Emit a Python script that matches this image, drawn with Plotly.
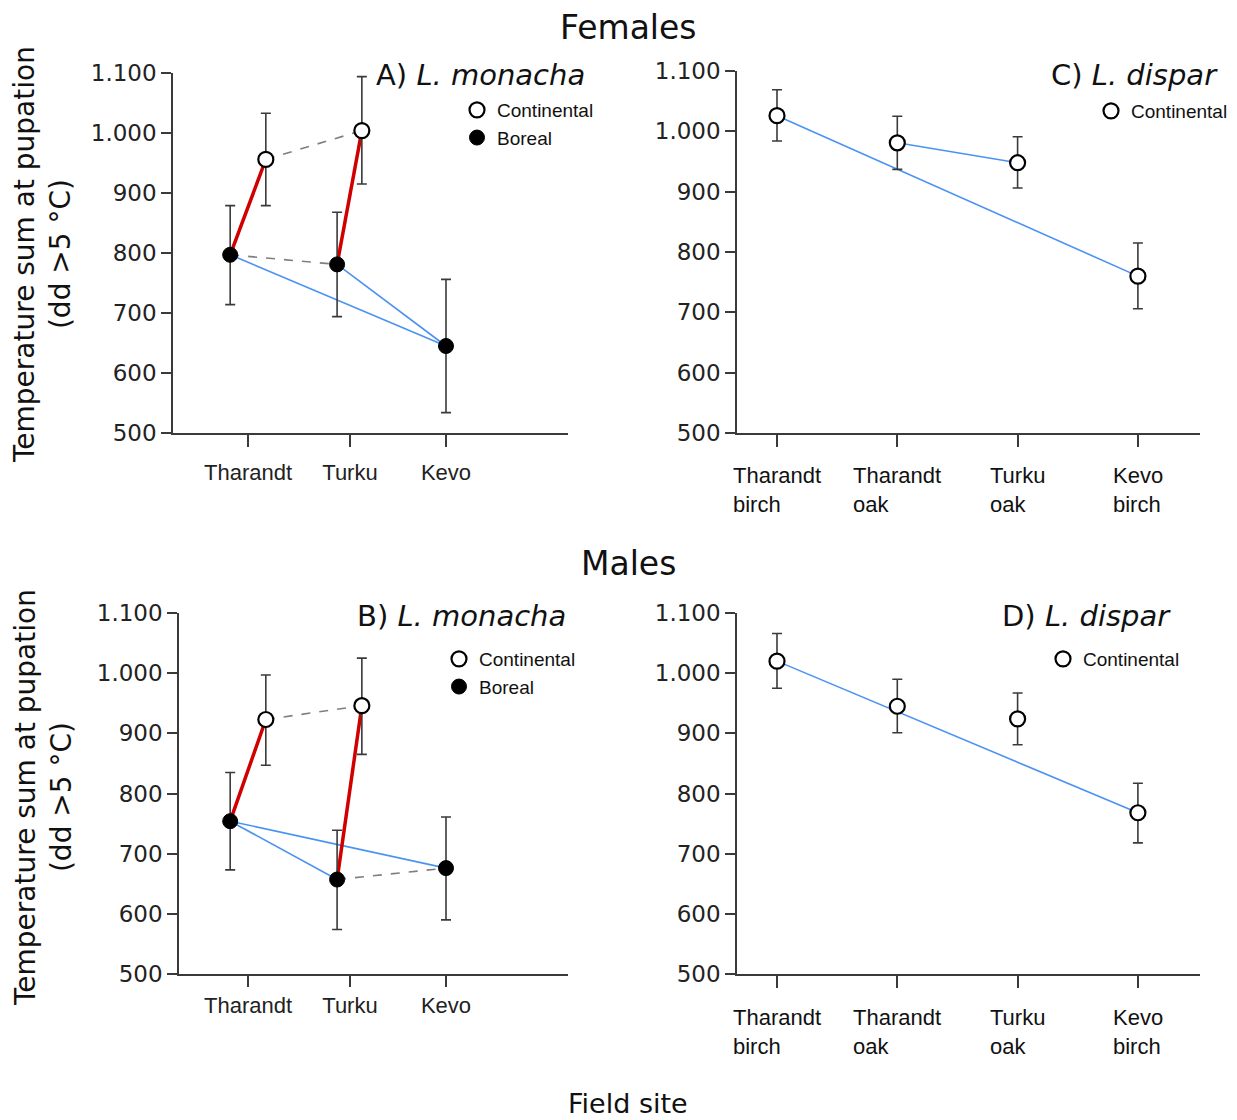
import plotly.graph_objects as go

W, H = 1237, 1120

# ---------------- data ----------------
monacha_sites = ["Tharandt", "Turku", "Kevo"]
dispar_sites = ["Tharandt<br>birch", "Tharandt<br>oak", "Turku<br>oak", "Kevo<br>birch"]
y_ticks = [500, 600, 700, 800, 900, 1000, 1100]

# L. monacha, females (Continental: Tharandt, Turku; Boreal: Tharandt, Turku, Kevo)
fem_mon_cont_mean = [956, 1004]
fem_mon_cont_hi = [1033, 1094]
fem_mon_cont_lo = [879, 915]
fem_mon_bor_mean = [797, 781, 645]
fem_mon_bor_hi = [879, 868, 756]
fem_mon_bor_lo = [714, 694, 534]

# L. monacha, males
male_mon_cont_mean = [923, 946]
male_mon_cont_hi = [997, 1025]
male_mon_cont_lo = [847, 865]
male_mon_bor_mean = [754, 657, 676]
male_mon_bor_hi = [835, 739, 761]
male_mon_bor_lo = [673, 574, 590]

# L. dispar (Continental)
fem_dis_mean = [1026, 981, 948, 760]
fem_dis_hi = [1069, 1025, 991, 815]
fem_dis_lo = [984, 937, 906, 706]
male_dis_mean = [1020, 945, 924, 768]
male_dis_hi = [1066, 990, 967, 817]
male_dis_lo = [975, 901, 881, 718]

# ---------------- layout constants ----------------
monacha_pos = [0, 1.03, 2]
cont_dodge = [0.18, 0.12]
bor_dodge = [-0.18, -0.13, 0.0]
dispar_pos = [0, 1, 2, 3]

RED = dict(color="#d10000", width=3.5)
BLUE = dict(color="#4b93f2", width=1.6)
GRAY = dict(color="#7f7f7f", width=1.6, dash="dash")

NUM_FONT = "DejaVu Sans, Verdana, sans-serif"
LAB_FONT = "Liberation Sans, Arial, sans-serif"
AX_COLOR = "#3a3a3a"

fig = go.Figure()


def px_x(p):
    return p / W


def px_y(p):
    return 1 - p / H


def add_group(ax, x, mean, hi, lo, filled, name, legend, show):
    xa, ya = ax
    fig.add_trace(go.Scatter(
        x=x, y=mean, mode="markers", xaxis=xa, yaxis=ya, name=name,
        legend=legend, showlegend=show, cliponaxis=False,
        marker=dict(size=15, color="black" if filled else "white",
                    line=dict(color="black", width=1 if filled else 2.2)),
        error_y=dict(type="data", symmetric=False,
                     array=[h - m for h, m in zip(hi, mean)],
                     arrayminus=[m - l for l, m in zip(lo, mean)],
                     color=AX_COLOR, thickness=1.6, width=5),
    ))


def add_link(ax, pts, style):
    xa, ya = ax
    fig.add_trace(go.Scatter(
        x=[p[0] for p in pts], y=[p[1] for p in pts], mode="lines",
        xaxis=xa, yaxis=ya, line=style, showlegend=False, hoverinfo="skip",
        cliponaxis=False,
    ))


def monacha_panel(ax, cm, ch, cl, bm, bh, bl, links, legend):
    cx = [monacha_pos[i] + cont_dodge[i] for i in range(len(cm))]
    bx = [monacha_pos[i] + bor_dodge[i] for i in range(len(bm))]
    P = {"c": list(zip(cx, cm)), "b": list(zip(bx, bm))}
    for style, a, b in links:
        add_link(ax, [P[a[0]][a[1]], P[b[0]][b[1]]], style)
    add_group(ax, cx, cm, ch, cl, False, "Continental", legend, True)
    add_group(ax, bx, bm, bh, bl, True, "Boreal", legend, True)


def dispar_panel(ax, m, h, l, links, legend):
    P = list(zip(dispar_pos, m))
    for style, a, b in links:
        add_link(ax, [P[a], P[b]], style)
    add_group(ax, dispar_pos, m, h, l, False, "Continental", legend, True)


# A) females L. monacha
monacha_panel(("x", "y"), fem_mon_cont_mean, fem_mon_cont_hi, fem_mon_cont_lo,
              fem_mon_bor_mean, fem_mon_bor_hi, fem_mon_bor_lo,
              [(GRAY, ("c", 0), ("c", 1)), (GRAY, ("b", 0), ("b", 1)),
               (BLUE, ("b", 0), ("b", 2)), (BLUE, ("b", 1), ("b", 2)),
               (RED, ("b", 0), ("c", 0)), (RED, ("b", 1), ("c", 1))], "legend")
# B) males L. monacha
monacha_panel(("x2", "y2"), male_mon_cont_mean, male_mon_cont_hi, male_mon_cont_lo,
              male_mon_bor_mean, male_mon_bor_hi, male_mon_bor_lo,
              [(GRAY, ("c", 0), ("c", 1)), (GRAY, ("b", 1), ("b", 2)),
               (BLUE, ("b", 0), ("b", 1)), (BLUE, ("b", 0), ("b", 2)),
               (RED, ("b", 0), ("c", 0)), (RED, ("b", 1), ("c", 1))], "legend2")
# C) females L. dispar
dispar_panel(("x3", "y3"), fem_dis_mean, fem_dis_hi, fem_dis_lo,
             [(BLUE, 0, 3), (BLUE, 1, 2)], "legend3")
# D) males L. dispar
dispar_panel(("x4", "y4"), male_dis_mean, male_dis_hi, male_dis_lo,
             [(BLUE, 0, 3)], "legend4")

# ---------------- axes ----------------
common = dict(showline=True, linecolor=AX_COLOR, linewidth=1.5, ticks="outside",
              tickcolor=AX_COLOR, tickwidth=1.5, showgrid=False, zeroline=False,
              fixedrange=True, automargin=False)


def yaxis(top, bottom, anchor):
    return dict(common, domain=[px_y(bottom), px_y(top)], range=[500, 1100],
                tickvals=y_ticks, tickformat=",", ticklen=10, anchor=anchor,
                tickfont=dict(family=NUM_FONT, size=23, color="#222"))


def xaxis_mon(left, right, anchor, ticklen, standoff):
    sp = 99.0
    return dict(common, domain=[px_x(left), px_x(right)],
                range=[(left - 248) / sp, (right - 248) / sp],
                tickvals=monacha_pos, ticktext=monacha_sites, ticklen=ticklen,
                ticklabelstandoff=standoff, anchor=anchor,
                tickfont=dict(family=LAB_FONT, size=22, color="#222"))


def xaxis_dis(left, right, anchor):
    sp = 120.3
    return dict(common, domain=[px_x(left), px_x(right)],
                range=[(left - 777) / sp, (right - 777) / sp],
                tickvals=dispar_pos, ticktext=[""] * 4, ticklen=12, anchor=anchor)


fig.update_layout(
    xaxis=xaxis_mon(173, 568, "y", 12, 7), yaxis=yaxis(73, 433, "x"),
    xaxis2=xaxis_mon(179, 568, "y2", 11, 0), yaxis2=yaxis(613, 974, "x2"),
    xaxis3=xaxis_dis(737, 1200, "y3"), yaxis3=yaxis(71, 433, "x3"),
    xaxis4=xaxis_dis(737, 1200, "y4"), yaxis4=yaxis(613, 974, "x4"),
)

# ---------------- legends ----------------
def leg(xpx, ypx):
    return dict(x=px_x(xpx), y=px_y(ypx), xanchor="left", yanchor="top",
                bgcolor="rgba(0,0,0,0)", borderwidth=0, tracegroupgap=0,
                itemwidth=30, itemclick=False, itemdoubleclick=False,
                font=dict(family=LAB_FONT, size=19, color="#111"))


fig.update_layout(legend=leg(457, 91), legend2=leg(439, 640),
                  legend3=leg(1091, 92), legend4=leg(1043, 640))

# ---------------- annotations ----------------
ann = []


def text(xpx, ypx, s, size, family=NUM_FONT, xanchor="center", yanchor="middle",
         angle=0, align="center", xref="paper", x=None):
    ann.append(dict(x=px_x(xpx) if x is None else x, y=px_y(ypx), xref=xref,
                    yref="paper", text=s, showarrow=False, xanchor=xanchor,
                    yanchor=yanchor, textangle=angle, align=align,
                    font=dict(family=family, size=size, color="#111")))


text(628, 27, "Females", 33)
text(628, 563, "Males", 33)
text(628, 1103, "Field site", 27)
text(587, 75, "A) <i>L. monacha</i>", 29, xanchor="right")
text(568, 616, "B) <i>L. monacha</i>", 29, xanchor="right")
text(1220, 75, "C) <i>L. dispar</i>", 29, xanchor="right")
text(1173, 616, "D) <i>L. dispar</i>", 29, xanchor="right")
text(43, 255, "Temperature sum at pupation<br>(dd >5 °C)", 28, angle=-90)
text(43, 798, "Temperature sum at pupation<br>(dd >5 °C)", 28, angle=-90)

for xr, ytop in (("x3", 461), ("x4", 1003)):
    for pos, lab in zip(dispar_pos, dispar_sites):
        text(0, ytop, lab, 22, family=LAB_FONT, yanchor="top", align="left",
             xref=xr, x=pos)

fig.update_layout(
    annotations=ann, width=W, height=H,
    margin=dict(l=0, r=0, t=0, b=0, pad=0, autoexpand=False),
    paper_bgcolor="white", plot_bgcolor="white",
    separators=",.", showlegend=True,
    font=dict(family=NUM_FONT, color="#111"),
)

fig.write_html("out.html", config={"displayModeBar": False},
               post_script="document.body.style.margin='0';")
